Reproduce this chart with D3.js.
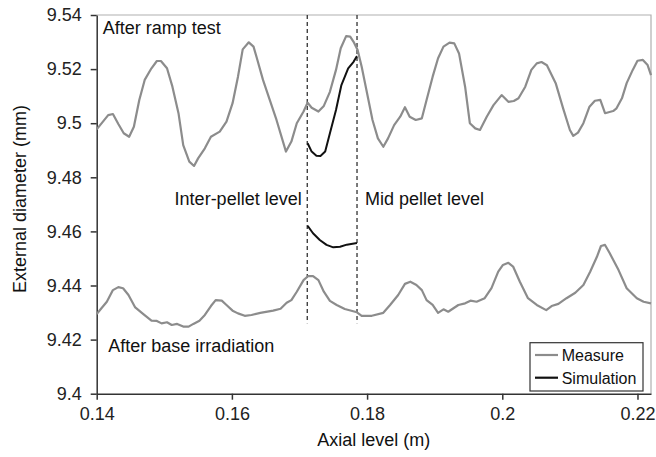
<!DOCTYPE html>
<html><head><meta charset="utf-8">
<script src="https://cdn.jsdelivr.net/npm/d3@7"></script>
<style>
body{margin:0;background:#fff;}
svg{display:block;font-family:"Liberation Sans",Arial,sans-serif;}
</style></head>
<body><svg id="c" width="656" height="457"></svg>
<script>
// Measured profile after ramp test (x in m, diameter in mm)
const rampX = [0.1400,0.1417,0.1424,0.1432,0.1440,0.1448,0.1455,0.1463,0.1471,0.1481,0.1489,0.1495,0.1504,0.1512,0.1521,0.1528,0.1537,0.1544,0.1550,0.1560,0.1569,0.1582,0.1592,0.1601,0.1609,0.1616,0.1625,0.1632,0.1637,0.1646,0.1656,0.1666,0.1680,0.1688,0.1696,0.1706,0.1712,0.1718,0.1728,0.1736,0.1745,0.1754,0.1761,0.1769,0.1775,0.1780,0.1786,0.1792,0.1799,0.1808,0.1816,0.1824,0.1831,0.1840,0.1849,0.1856,0.1863,0.1872,0.1881,0.1888,0.1897,0.1905,0.1913,0.1922,0.1929,0.1936,0.1945,0.1952,0.1960,0.1967,0.1977,0.1987,0.1999,0.2009,0.2017,0.2024,0.2034,0.2043,0.2051,0.2058,0.2066,0.2079,0.2090,0.2100,0.2105,0.2112,0.2120,0.2129,0.2137,0.2145,0.2152,0.2164,0.2169,0.2177,0.2184,0.2193,0.2200,0.2208,0.2215,0.2220];
const rampY = [9.4977,9.5030,9.5034,9.4997,9.4963,9.4950,9.4987,9.5086,9.5160,9.5203,9.5230,9.5230,9.5203,9.5135,9.5037,9.4919,9.4858,9.4842,9.4870,9.4907,9.4950,9.4969,9.5006,9.5074,9.5172,9.5273,9.5299,9.5283,9.5240,9.5160,9.5086,9.5012,9.4895,9.4932,9.5000,9.5043,9.5076,9.5057,9.5043,9.5064,9.5116,9.5197,9.5277,9.5322,9.5320,9.5301,9.5271,9.5209,9.5123,9.5012,9.4944,9.4913,9.4944,9.4993,9.5024,9.5059,9.5024,9.5012,9.5018,9.5086,9.5172,9.5240,9.5283,9.5298,9.5295,9.5258,9.5135,9.5000,9.4981,9.4975,9.5024,9.5067,9.5104,9.5079,9.5082,9.5092,9.5135,9.5197,9.5221,9.5226,9.5214,9.5148,9.5055,9.4975,9.4953,9.4965,9.5000,9.5061,9.5083,9.5086,9.5037,9.5045,9.5055,9.5092,9.5148,9.5197,9.5231,9.5234,9.5215,9.5178];
// Measured profile after base irradiation
const baseX = [0.1400,0.1407,0.1415,0.1424,0.1432,0.1439,0.1447,0.1457,0.1469,0.1481,0.1489,0.1496,0.1504,0.1511,0.1519,0.1528,0.1536,0.1543,0.1552,0.1560,0.1569,0.1576,0.1585,0.1592,0.1601,0.1609,0.1619,0.1629,0.1642,0.1661,0.1672,0.1681,0.1688,0.1696,0.1706,0.1713,0.1720,0.1728,0.1736,0.1745,0.1755,0.1767,0.1785,0.1792,0.1807,0.1824,0.1834,0.1846,0.1856,0.1864,0.1873,0.1881,0.1888,0.1897,0.1905,0.1913,0.1920,0.1935,0.1945,0.1953,0.1962,0.1974,0.1984,0.1994,0.2001,0.2009,0.2016,0.2026,0.2038,0.2051,0.2065,0.2073,0.2083,0.2095,0.2108,0.2120,0.2130,0.2140,0.2146,0.2152,0.2159,0.2172,0.2184,0.2199,0.2209,0.2220];
const baseY = [9.4294,9.4316,9.4340,9.4383,9.4394,9.4390,9.4365,9.4319,9.4294,9.4270,9.4269,9.4260,9.4264,9.4254,9.4258,9.4248,9.4248,9.4258,9.4270,9.4291,9.4324,9.4346,9.4344,9.4328,9.4307,9.4297,9.4288,9.4291,9.4299,9.4307,9.4314,9.4336,9.4346,9.4377,9.4420,9.4435,9.4435,9.4420,9.4377,9.4343,9.4328,9.4313,9.4301,9.4288,9.4288,9.4299,9.4328,9.4365,9.4406,9.4414,9.4402,9.4383,9.4346,9.4328,9.4299,9.4312,9.4303,9.4328,9.4334,9.4344,9.4340,9.4353,9.4390,9.4451,9.4476,9.4484,9.4470,9.4414,9.4353,9.4328,9.4309,9.4324,9.4332,9.4353,9.4373,9.4402,9.4451,9.4506,9.4546,9.4550,9.4519,9.4457,9.4390,9.4353,9.4340,9.4334];
// Simulation
const simRampX = [0.1712,0.1718,0.1725,0.1731,0.1738,0.1745,0.1754,0.1762,0.1772,0.1780,0.1785];
const simRampY = [9.4926,9.4895,9.4880,9.4879,9.4895,9.4963,9.5049,9.5141,9.5203,9.5227,9.5248];
const simBaseX = [0.1712,0.1720,0.1730,0.1740,0.1750,0.1760,0.1770,0.1785];
const simBaseY = [9.4621,9.4593,9.4568,9.4550,9.4541,9.4543,9.4551,9.4557];
// Vertical markers (inter-pellet / mid pellet)
const markerX = [0.17115, 0.17851];
const markerBottom = 9.426;
const xTicks = [0.14,0.16,0.18,0.2,0.22];
const yTicks = [9.4,9.42,9.44,9.46,9.48,9.5,9.52,9.54];
const xDomain = [0.14, 0.222];
const yDomain = [9.4, 9.54];

const svg = d3.select("#c");
const m = {l:96.7, r:5, t:15, b:63.3};
const W = 656, H = 457;
const x = d3.scaleLinear().domain(xDomain).range([m.l, W-m.r]);
const y = d3.scaleLinear().domain(yDomain).range([H-m.b, m.t]);

// frame top/right
svg.append("path")
  .attr("d", `M${x(xDomain[0])},${y(yDomain[1])}H${x(xDomain[1])}V${y(yDomain[0])}`)
  .attr("fill","none").attr("stroke","#b0b0b0").attr("stroke-width",1.2);

const fmt = d => String(d);
const xa = svg.append("g").attr("transform",`translate(0,${y(yDomain[0])})`)
  .call(d3.axisBottom(x).tickValues(xTicks).tickFormat(fmt).tickSize(6).tickPadding(8).tickSizeOuter(0));
const ya = svg.append("g").attr("transform",`translate(${x(xDomain[0])},0)`)
  .call(d3.axisLeft(y).tickValues(yTicks).tickFormat(fmt).tickSize(6).tickPadding(9).tickSizeOuter(0));
[xa,ya].forEach(g=>{
  g.selectAll("path,line").attr("stroke","#333").attr("stroke-width",1.5);
  g.selectAll("text").attr("font-size",18).attr("fill","#222").attr("font-family",'"Liberation Sans",Arial,sans-serif');
});

// dashed markers
svg.selectAll("line.mk").data(markerX).enter().append("line")
  .attr("x1",d=>x(d)).attr("x2",d=>x(d))
  .attr("y1",y(yDomain[1])).attr("y2",y(markerBottom))
  .attr("stroke","#333").attr("stroke-width",1.3).attr("stroke-dasharray","4,3");

const line = d3.line().x(d=>x(d[0])).y(d=>y(d[1]));
const zipXY = (a,b)=>a.map((v,i)=>[v,b[i]]);
svg.append("path").datum(zipXY(rampX,rampY)).attr("d",line)
  .attr("fill","none").attr("stroke","#8c8c8c").attr("stroke-width",2.2).attr("stroke-linejoin","round");
svg.append("path").datum(zipXY(baseX,baseY)).attr("d",line)
  .attr("fill","none").attr("stroke","#8c8c8c").attr("stroke-width",2.2).attr("stroke-linejoin","round");
svg.append("path").datum(zipXY(simRampX,simRampY)).attr("d",line)
  .attr("fill","none").attr("stroke","#111").attr("stroke-width",2).attr("stroke-linejoin","round");
svg.append("path").datum(zipXY(simBaseX,simBaseY)).attr("d",line)
  .attr("fill","none").attr("stroke","#111").attr("stroke-width",2).attr("stroke-linejoin","round");

// annotations
const ann = (t,px,py,anchor)=>svg.append("text").attr("x",px).attr("y",py)
  .attr("text-anchor",anchor||"start").attr("font-size",18).attr("fill","#111").text(t);
ann("After ramp test",102.7,34.3);
ann("Inter-pellet level",301.7,204.6,"end");
ann("Mid pellet level",365,204.6);
ann("After base irradiation",108.3,351.7);

// axis titles
svg.append("text").attr("x",(m.l+W-m.r)/2).attr("y",446).attr("text-anchor","middle")
  .attr("font-size",18).attr("fill","#111").text("Axial level (m)");
svg.append("text").attr("transform","translate(26,199) rotate(-90)").attr("text-anchor","middle")
  .attr("font-size",18).attr("fill","#111").text("External diameter (mm)");

// legend
const lg = svg.append("g");
lg.append("rect").attr("x",530).attr("y",342.7).attr("width",113).attr("height",48.3)
  .attr("fill","#fff").attr("stroke","#333").attr("stroke-width",1.2);
const items = [["Measure","#8c8c8c",355],["Simulation","#111",377.7]];
items.forEach(([t,c,cy])=>{
  lg.append("line").attr("x1",535).attr("x2",558).attr("y1",cy).attr("y2",cy).attr("stroke",c).attr("stroke-width",2.2);
  lg.append("text").attr("x",561.7).attr("y",cy+5.8).attr("font-size",16).attr("fill","#111").text(t);
});
</script></body></html>
